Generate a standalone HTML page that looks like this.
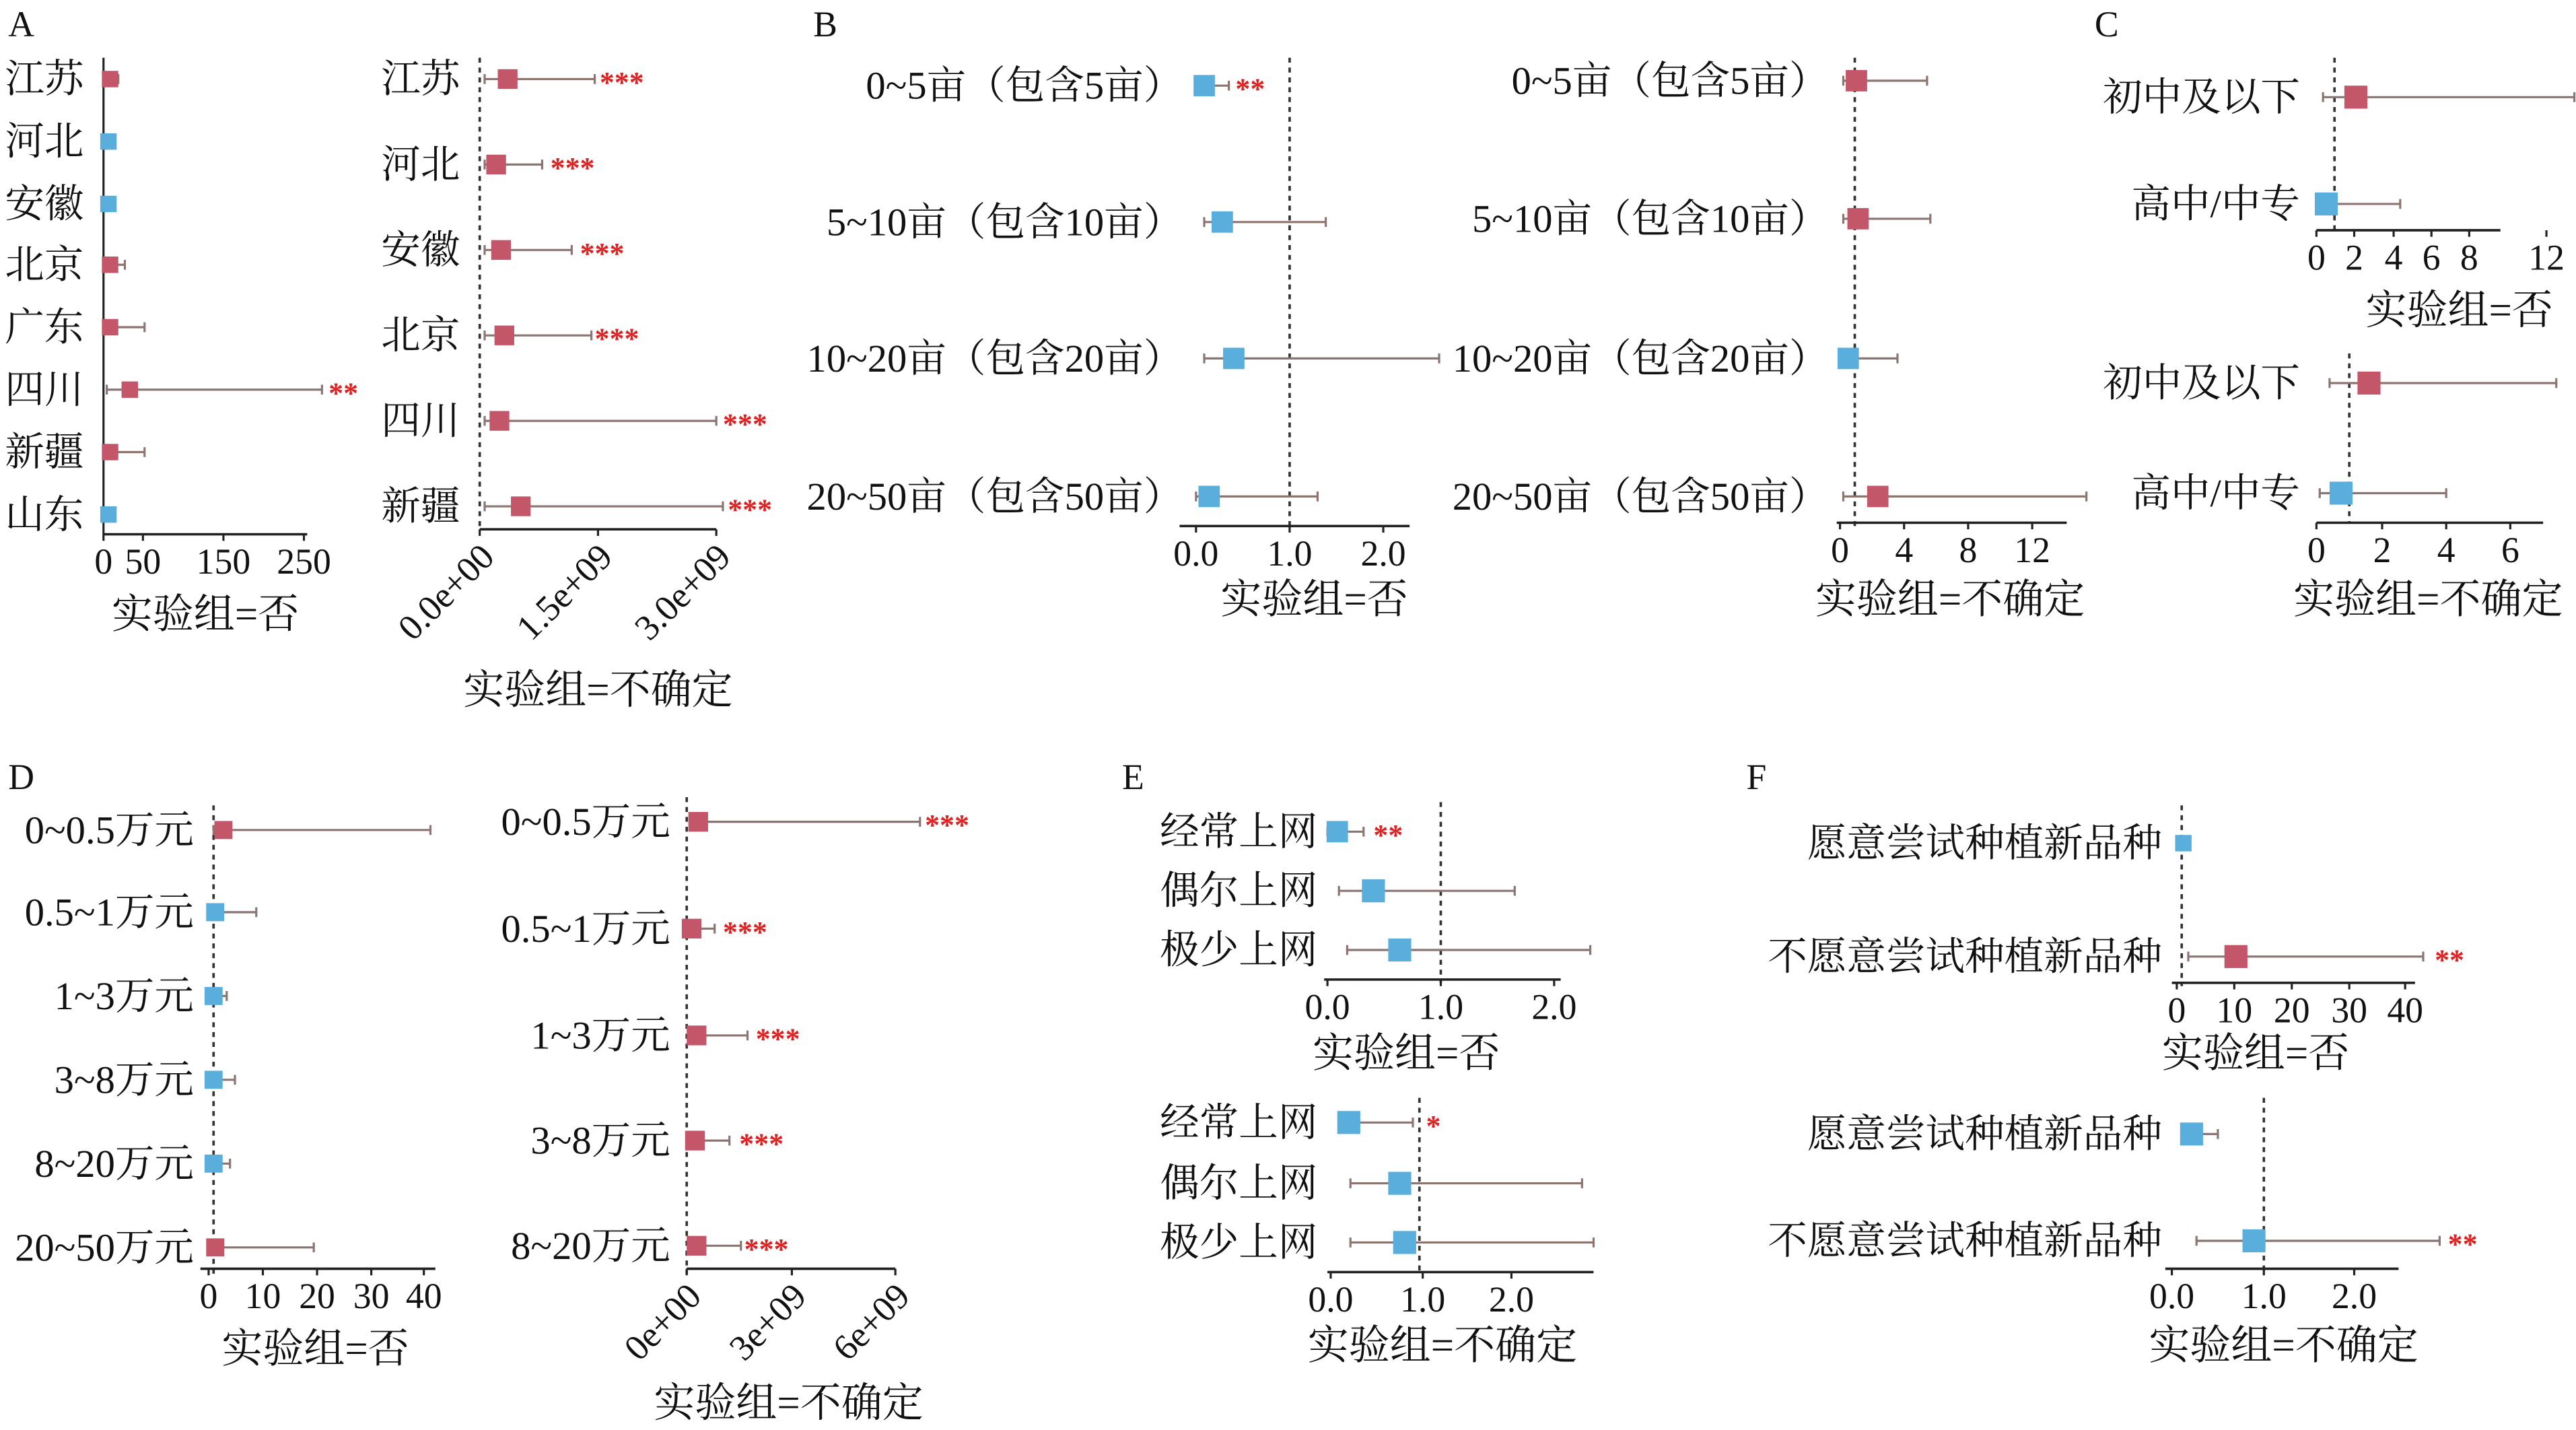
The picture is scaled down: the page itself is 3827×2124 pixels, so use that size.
<!DOCTYPE html>
<html><head><meta charset="utf-8">
<style>
html,body{margin:0;padding:0;background:#fff;}
svg{display:block;}
text{font-family:"Liberation Serif","Noto Serif CJK SC",serif;fill:#111;}
</style></head>
<body>
<svg id="s" width="3827" height="2124" viewBox="0 0 1568 870" xmlns="http://www.w3.org/2000/svg"></svg>
<script>
var s=document.getElementById('s'),h='';
var RED='#c4566a',BLUE='#5aaedc',EB='#8c7570';
function t(x,y,str,sz,anchor,extra){h+='<text x="'+x+'" y="'+y+'" font-size="'+(sz||22)+'" text-anchor="'+(anchor||'start')+'" '+(extra||'')+'>'+str+'</text>';}
function L(x1,y1,x2,y2,c,w,da){h+='<line x1="'+x1+'" y1="'+y1+'" x2="'+x2+'" y2="'+y2+'" stroke="'+(c||'#222')+'" stroke-width="'+(w||1.3)+'"'+(da?' stroke-dasharray="'+da+'"':'')+'/>';}
function row(y,lo,hi,m,col,sz,star,sx){
 L(lo,y,hi,y,EB,1.3);L(lo,y-3,lo,y+3,EB,1.3);L(hi,y-3,hi,y+3,EB,1.3);
 sz=sz||12;h+='<rect x="'+(m-sz/2)+'" y="'+(y-sz/2)+'" width="'+sz+'" height="'+sz+'" fill="'+(col=='r'?RED:BLUE)+'"/>';
 if(star)t(sx,y+8,star,18,'start','style="fill:#e02020;font-weight:bold"');
}
function vline(x,y1,y2){L(x,y1,x,y2,'#333',1.5,'3,3');}
function axis(y,x1,x2,ticks){L(x1,y,x2,y,'#222',1.5);ticks.forEach(function(k){L(k[0],y,k[0],y+4,'#222',1.3);t(k[0],y+24,k[1],22,'middle');});}
function rticks(y,x1,x2,ticks){L(x1,y,x2,y,'#222',1.5);ticks.forEach(function(k){L(k[0],y,k[0],y+4,'#222',1.3);t(k[0]+10,y+18,k[1],22,'end','transform="rotate(-45 '+(k[0]+10)+' '+(y+18)+')"');});}
function lab(x,y,str){t(x,y+8,str,24,'end');}
function ti(x,y,str){t(x,y,str,25,'middle');}
t(5,22,'A');t(495,22,'B');t(1275,22,'C');t(5,480,'D');t(683,480,'E');t(1063,480,'F');
// A left
var al=[['江苏',48,63,72,67,'r'],['河北',86,64,68,66,'b'],['安徽',124,64,68,66,'b'],['北京',161,63,76,67,'r'],['广东',199,63,88,67,'r'],['四川',237,65,196,79,'r','**',200],['新疆',275,63,88,67,'r'],['山东',313,64,68,66,'b']];
L(63,35,63,325,'#222',1.3);
al.forEach(function(r){t(3,r[1]+8,r[0],24);row(r[1],r[2],r[3],r[4],r[5],10,r[6],r[7]);});
axis(325,63,187,[[63,'0'],[87,'50'],[136,'150'],[185,'250']]);
ti(125,382,'实验组=否');
// A right
vline(292,35,320);
var ar=[['江苏',48,295,362,309,380],['河北',100,295,330,302,350],['安徽',152,295,348,305,368],['北京',204,295,360,307,377],['四川',256,295,436,304,455],['新疆',308,295,440,317,458]];
ar.forEach(function(r){lab(280,r[1],r[0]);row(r[1],r[2],r[3],r[4],'r',12,'***',r[5]-15);});
rticks(322,292,436,[[292,'0.0e+00'],[364,'1.5e+09'],[436,'3.0e+09']]);
ti(364,428,'实验组=不确定');
// B left
vline(785,35,320);
var bl=[['0~5亩（包含5亩）',52,728,748,733,'**',752],['5~10亩（包含10亩）',135,733,807,744],['10~20亩（包含20亩）',218,733,876,751],['20~50亩（包含50亩）',302,728,802,736]];
bl.forEach(function(r){lab(720,r[1],r[0]);row(r[1],r[2],r[3],r[4],'b',13,r[5],r[6]);});
axis(320,718,858,[[728,'0.0'],[785,'1.0'],[842,'2.0']]);
ti(800,373,'实验组=否');
// B right
vline(1129,35,320);
var br=[['0~5亩（包含5亩）',49,1122,1173,1130,'r'],['5~10亩（包含10亩）',133,1122,1175,1131,'r'],['10~20亩（包含20亩）',218,1122,1155,1125,'b'],['20~50亩（包含50亩）',302,1122,1270,1143,'r']];
br.forEach(function(r){lab(1113,r[1],r[0]);row(r[1],r[2],r[3],r[4],r[5],13);});
axis(318,1118,1258,[[1120,'0'],[1159,'4'],[1198,'8'],[1237,'12']]);
ti(1187,373,'实验组=不确定');
// C top
vline(1421,35,140);
lab(1400,59,'初中及以下');row(59,1414,1567,1434,'r',14);
lab(1400,124,'高中/中专');row(124,1411,1461,1416,'b',14);
axis(140,1410,1522,[[1410,'0'],[1433,'2'],[1457,'4'],[1480,'6'],[1503,'8'],[1550,'12']]);
ti(1497,197,'实验组=否');
// C bottom
vline(1430,215,318);
lab(1400,233,'初中及以下');row(233,1418,1556,1442,'r',14);
lab(1400,300,'高中/中专');row(300,1412,1489,1425,'b',14);
axis(318,1410,1548,[[1410,'0'],[1450,'2'],[1489,'4'],[1528,'6']]);
ti(1478,373,'实验组=不确定');
// D left
vline(130,490,775);
var dl=[['0~0.5万元',505,130,262,136,'r'],['0.5~1万元',555,128,156,131,'b'],['1~3万元',606,128,138,130,'b'],['3~8万元',657,128,143,130,'b'],['8~20万元',708,128,140,130,'b'],['20~50万元',759,128,191,131,'r']];
dl.forEach(function(r){lab(118,r[1],r[0]);row(r[1],r[2],r[3],r[4],r[5],11);});
axis(772,122,265,[[127,'0'],[160,'10'],[193,'20'],[226,'30'],[258,'40']]);
ti(192,829,'实验组=否');
// D right
vline(418,485,775);
var dr=[['0~0.5万元',500,420,560,425,578],['0.5~1万元',565,420,435,421,455],['1~3万元',630,420,455,424,475],['3~8万元',694,420,444,423,465],['8~20万元',758,420,451,424,468]];
dr.forEach(function(r){lab(408,r[1],r[0]);row(r[1],r[2],r[3],r[4],'r',12,'***',r[5]-15);});
rticks(772,418,545,[[418,'0e+00'],[482,'3e+09'],[545,'6e+09']]);
ti(480,862,'实验组=不确定');
// E top
vline(877,488,598);
lab(802,506,'经常上网');row(506,808,830,814,'b',13,'**',836);
lab(802,542,'偶尔上网');row(542,815,922,836,'b',14);
lab(802,578,'极少上网');row(578,820,968,852,'b',14);
axis(596,806,950,[[808,'0.0'],[877,'1.0'],[946,'2.0']]);
ti(856,649,'实验组=否');
// E bottom
vline(864,668,775);
lab(802,683,'经常上网');row(683,815,860,821,'b',14,'*',868);
lab(802,720,'偶尔上网');row(720,822,963,852,'b',14);
lab(802,756,'极少上网');row(756,822,970,855,'b',14);
axis(774,808,970,[[810,'0.0'],[866,'1.0'],[920,'2.0']]);
ti(878,827,'实验组=不确定');
// F top
vline(1328,490,600);
lab(1316,513,'愿意尝试种植新品种');row(513,1326,1332,1329,'b',10);
lab(1316,582,'不愿意尝试种植新品种');row(582,1332,1475,1361,'r',14,'**',1482);
axis(598,1322,1470,[[1325,'0'],[1360,'10'],[1395,'20'],[1430,'30'],[1464,'40']]);
ti(1373,649,'实验组=否');
// F bottom
vline(1378,668,775);
lab(1316,690,'愿意尝试种植新品种');row(690,1328,1350,1334,'b',14);
lab(1316,755,'不愿意尝试种植新品种');row(755,1337,1485,1372,'b',14,'**',1490);
axis(772,1318,1460,[[1322,'0.0'],[1378,'1.0'],[1433,'2.0']]);
ti(1390,827,'实验组=不确定');
s.innerHTML=h;
</script>
</body></html>
